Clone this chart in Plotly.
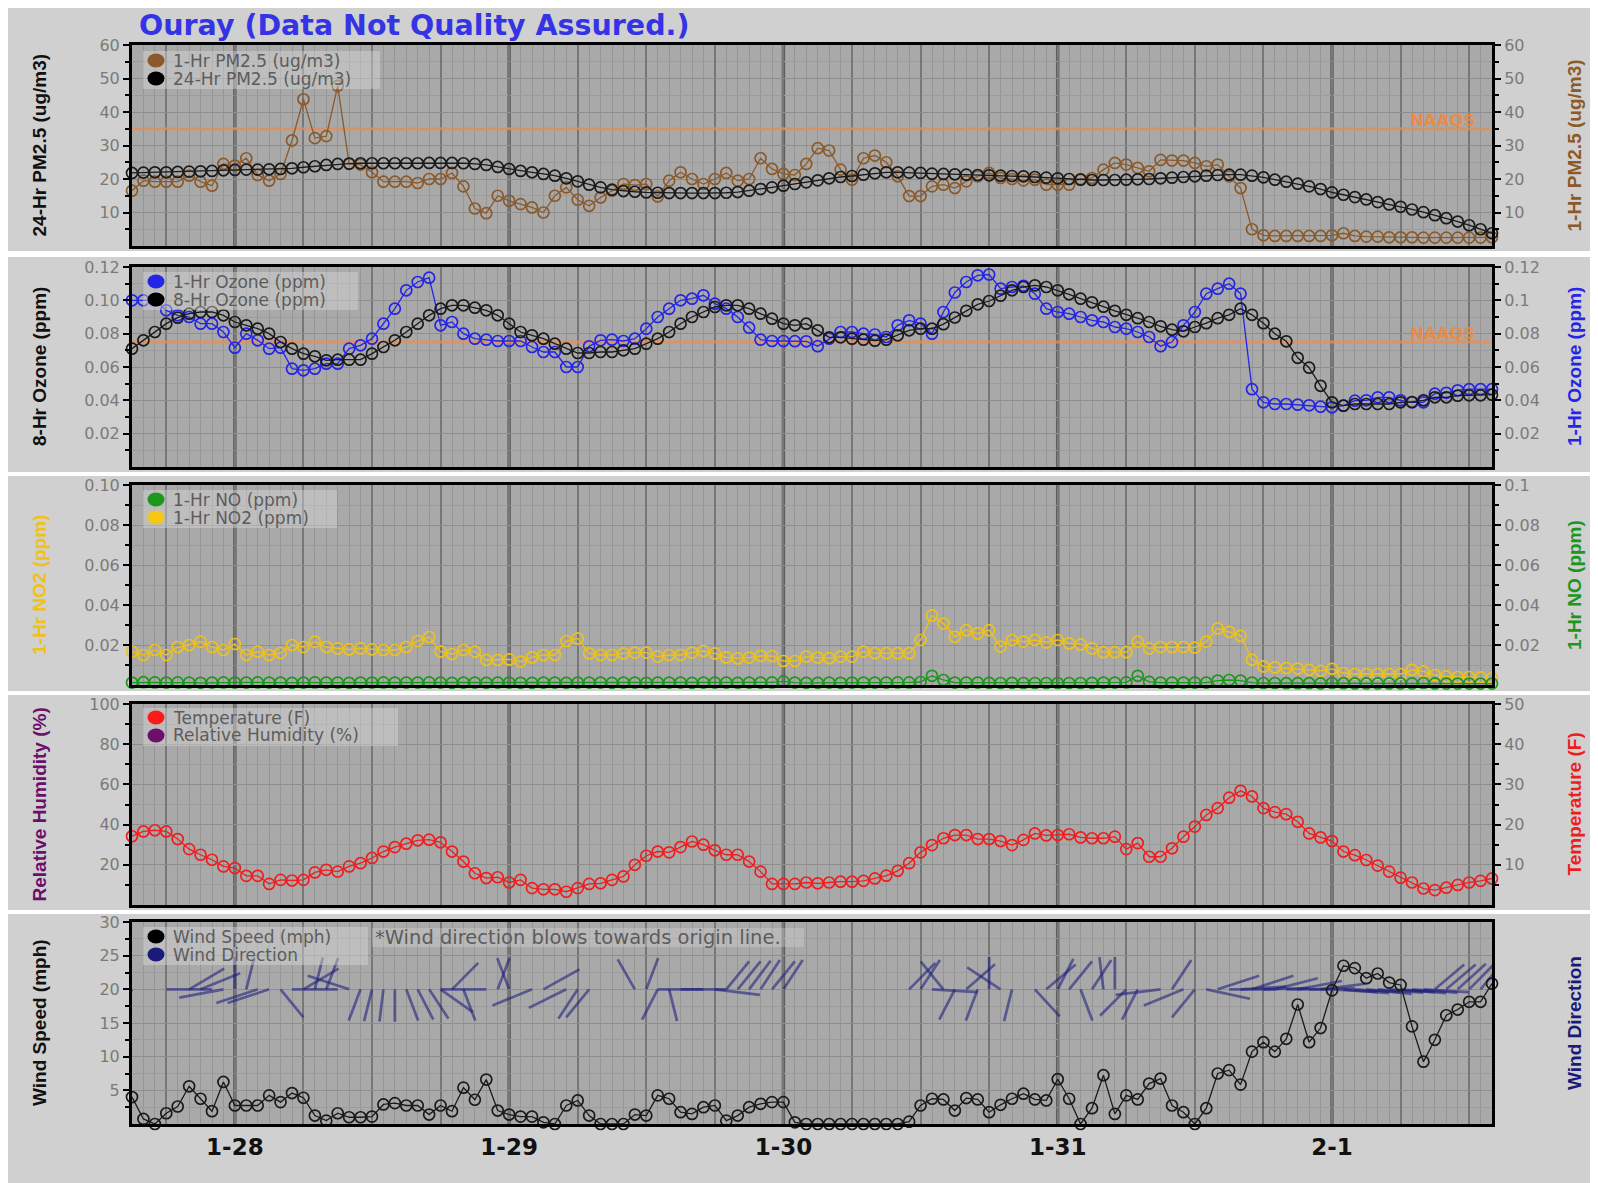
import math
import pandas as pd
import plotly.graph_objects as go

W, H = 1598, 1183          # browser window
PAGE_OFF = 8               # default body margin of the page
FW, FH = W - PAGE_OFF, H - PAGE_OFF   # figure size so that it ends at the window edge

# ---------------- data ----------------
times = pd.date_range("2013-01-27 15:00", periods=120, freq="h")
day_ticks = ["2013-01-28", "2013-01-29", "2013-01-30", "2013-01-31", "2013-02-01"]
day_labels = ["1-28", "1-29", "1-30", "1-31", "2-1"]

pm25_1hr = [16.5, 19.5, 19.2, 19.2, 19.2, 21.0, 19.2, 18.0, 24.5, 24.0,
            26.2, 21.2, 19.5, 21.5, 31.5, 43.8, 32.2, 32.8, 47.8, 24.5,
            24.3, 22.0, 19.2, 19.2, 19.2, 18.8, 20.0, 20.0, 21.8, 17.8,
            11.2, 9.8, 15.0, 13.5, 12.5, 11.5, 10.0, 15.0, 17.5, 13.8,
            12.0, 14.5, 16.5, 18.5, 18.2, 18.5, 14.8, 19.5, 22.0, 20.0,
            18.5, 20.0, 21.8, 19.5, 20.0, 26.2, 23.0, 21.5, 21.2,
            24.5, 29.2, 28.5, 22.8, 19.8, 26.2, 27.0, 25.0, 20.8, 14.9,
            14.9, 17.8, 18.3, 17.3, 19.3, 20.8, 21.8, 20.3, 20.0, 19.6,
            19.8, 18.3, 18.3, 18.3, 20.0, 20.3, 22.8, 24.8, 24.3, 23.3,
            22.3, 25.7, 25.5, 25.5, 24.8, 23.8, 24.3, 20.8, 17.3,
            5.0, 3.2, 3.0, 3.0, 3.0, 3.0, 3.0, 3.2, 3.8, 3.0, 2.8,
            2.8, 2.6, 2.6, 2.6, 2.5, 2.5, 2.5, 2.5, 2.5, 2.5, 2.6]

pm25_24hr = [21.8, 21.9, 22.0, 22.0, 22.1, 22.2, 22.3, 22.4, 22.6, 22.7,
             22.8, 22.8, 22.9, 23.0, 23.2, 23.5, 23.8, 24.2, 24.5, 24.6,
             24.7, 24.7, 24.7, 24.7, 24.7, 24.7, 24.8, 24.8, 24.8, 24.7,
             24.5, 24.2, 23.6, 23.0, 22.4, 22.0, 21.5, 21.0, 20.2, 19.3,
             18.3, 17.5, 16.8, 16.4, 16.2, 16.0, 15.9, 15.8, 15.8, 15.8,
             15.8, 15.8, 15.9, 16.1, 16.5, 17.0, 17.5, 18.0, 18.5, 19.0,
             19.6, 20.2, 20.6, 20.9, 21.3, 21.7, 22.0, 22.0, 21.9, 21.8,
             21.6, 21.5, 21.4, 21.3, 21.2, 21.1, 21.0, 20.9, 20.8, 20.6,
             20.4, 20.2, 20.0, 19.8, 19.7, 19.7, 19.7, 19.8, 19.9, 20.0,
             20.2, 20.4, 20.6, 20.8, 21.0, 21.2, 21.3, 21.3, 21.0, 20.5,
             19.8, 19.2, 18.6, 17.8, 17.0, 16.0, 15.3, 14.6, 13.9, 13.1,
             12.4, 11.7, 10.9, 10.1, 9.2, 8.3, 7.3, 6.2, 5.0, 3.8]

ozone_1hr = [0.100, 0.100, 0.100, 0.094, 0.091, 0.090, 0.086, 0.086, 0.081, 0.0716,
             0.080, 0.076, 0.071, 0.0716, 0.059, 0.058, 0.059, 0.062, 0.062, 0.071,
             0.073, 0.077, 0.086, 0.095, 0.106, 0.111, 0.1136, 0.085, 0.087, 0.080,
             0.077, 0.0764, 0.0756, 0.0756, 0.0756, 0.072, 0.069, 0.069, 0.060, 0.060,
             0.0724, 0.076, 0.0764, 0.0756, 0.077, 0.083, 0.090, 0.095, 0.100, 0.101,
             0.103, 0.098, 0.095, 0.090, 0.0836, 0.0764, 0.0756, 0.0756, 0.0755,
             0.0754, 0.0725, 0.077, 0.081, 0.081, 0.080, 0.0795, 0.078, 0.085, 0.088,
             0.086, 0.080, 0.093, 0.1047, 0.111, 0.115, 0.1155, 0.107, 0.108, 0.1087,
             0.104, 0.095, 0.093, 0.092, 0.090, 0.088, 0.087, 0.084, 0.083, 0.081,
             0.078, 0.0725, 0.075, 0.085, 0.093, 0.104, 0.107, 0.110, 0.104, 0.0467,
             0.0388, 0.0378, 0.0378, 0.0374, 0.037, 0.0362, 0.0358, 0.0368, 0.0398, 0.040,
             0.0418, 0.0418, 0.040, 0.0388, 0.0388, 0.044, 0.0445, 0.046, 0.0467, 0.0467,
             0.0467]

ozone_8hr = [0.071, 0.076, 0.081, 0.086, 0.0896, 0.092, 0.093, 0.093, 0.091, 0.087,
             0.085, 0.083, 0.080, 0.075, 0.071, 0.068, 0.0664, 0.064, 0.0644, 0.0644,
             0.0644, 0.068, 0.072, 0.076, 0.081, 0.086, 0.091, 0.095, 0.097, 0.097,
             0.0956, 0.094, 0.091, 0.086, 0.081, 0.079, 0.077, 0.074, 0.071, 0.0684,
             0.0684, 0.069, 0.069, 0.070, 0.071, 0.074, 0.077, 0.081, 0.086, 0.090,
             0.093, 0.096, 0.097, 0.097, 0.095, 0.092, 0.089, 0.086, 0.085,
             0.086, 0.082, 0.0778, 0.0778, 0.077, 0.0764, 0.0758, 0.0764, 0.079, 0.082,
             0.083, 0.083, 0.0857, 0.0897, 0.0937, 0.0976, 0.0996, 0.1028, 0.106, 0.108,
             0.109, 0.108, 0.106, 0.1036, 0.101, 0.0988, 0.0962, 0.0937, 0.0913, 0.0893,
             0.087, 0.0844, 0.0824, 0.0814, 0.084, 0.0863, 0.0893, 0.0913, 0.095, 0.0913,
             0.0863, 0.080, 0.0754, 0.0655, 0.0596, 0.0487, 0.0388, 0.0368, 0.0378, 0.0378,
             0.0378, 0.0378, 0.0388, 0.039, 0.040, 0.0418, 0.0418, 0.0428, 0.043, 0.043,
             0.0434]

no2_1hr = [0.0167, 0.015, 0.0175, 0.015, 0.019, 0.020, 0.0217, 0.019, 0.0175, 0.0205,
           0.015, 0.0167, 0.015, 0.016, 0.020, 0.019, 0.0217, 0.019, 0.0183, 0.0178,
           0.0183, 0.0178, 0.0175, 0.0175, 0.019, 0.022, 0.024, 0.0167, 0.0155, 0.0175,
           0.0167, 0.0125, 0.0125, 0.0128, 0.0117, 0.0138, 0.015, 0.015, 0.022, 0.0233,
           0.0158, 0.015, 0.015, 0.0158, 0.0162, 0.0162, 0.0142, 0.015, 0.015, 0.0162,
           0.017, 0.0158, 0.0138, 0.0133, 0.0137, 0.0145, 0.0145, 0.012, 0.012,
           0.0142, 0.0137, 0.0134, 0.0142, 0.0142, 0.0167, 0.0159, 0.0159, 0.0159, 0.0159,
           0.0225, 0.0348, 0.0307, 0.0241, 0.0274, 0.0258, 0.0274, 0.0192, 0.0225, 0.0217,
           0.0225, 0.0213, 0.0225, 0.0208, 0.0203, 0.0183, 0.0164, 0.0164, 0.0164, 0.0217,
           0.0183, 0.019, 0.019, 0.019, 0.0187, 0.0217, 0.0283, 0.0266, 0.0246, 0.0126,
           0.0093, 0.0088, 0.0085, 0.0082, 0.0076, 0.0071, 0.0081, 0.006, 0.0055, 0.0055,
           0.0055, 0.0055, 0.0055, 0.0076, 0.0068, 0.005, 0.0043, 0.004, 0.004, 0.0038,
           0.0035]

no_1hr = [0.0012, 0.0014, 0.0013, 0.0012, 0.0013, 0.0012, 0.0011, 0.0012, 0.0013, 0.0012,
          0.0012, 0.0013, 0.0012, 0.0012, 0.0011, 0.0012, 0.0013, 0.0012, 0.0012, 0.0011,
          0.0012, 0.0012, 0.0013, 0.0012, 0.0012, 0.0012, 0.0013, 0.0012, 0.0011, 0.0012,
          0.0012, 0.0011, 0.0012, 0.0012, 0.0011, 0.0011, 0.0012, 0.0012, 0.0011, 0.0012,
          0.0012, 0.0012, 0.0011, 0.0012, 0.0012, 0.0011, 0.0012, 0.0012, 0.0012, 0.0011,
          0.0012, 0.0012, 0.0012, 0.0011, 0.0012, 0.0012, 0.0013, 0.0018, 0.0012, 0.0011,
          0.0011, 0.0012, 0.0011, 0.0012, 0.0012, 0.0012, 0.0012, 0.0013, 0.0013, 0.0015,
          0.0046, 0.0025, 0.0012, 0.0012, 0.0012, 0.0011, 0.0010, 0.0011, 0.0010, 0.0010,
          0.0010, 0.0010, 0.0010, 0.0010, 0.0011, 0.0012, 0.0012, 0.0013, 0.0046, 0.0016,
          0.0012, 0.0012, 0.0012, 0.0012, 0.0012, 0.0022, 0.0025, 0.0022, 0.0012, 0.0010,
          0.0010, 0.0009, 0.0009, 0.0009, 0.0008, 0.0010, 0.0009, 0.0008, 0.0008, 0.0008,
          0.0008, 0.0008, 0.0008, 0.0010, 0.0008, 0.0007, 0.0007, 0.0007, 0.0007, 0.0007]

temperature_f = [17.1, 18.3, 18.6, 18.3, 16.4, 13.9, 12.5, 11.25, 9.6, 9.2,
                 7.25, 7.25, 5.25, 6.25, 6.1, 6.25, 8.1, 8.75, 8.3, 9.6,
                 10.4, 11.7, 13.3, 14.4, 15.25, 16.1, 16.25, 15.6, 13.3, 10.8,
                 7.9, 6.7, 6.9, 5.6, 6.25, 4.2, 3.9, 3.9, 3.3, 4.2,
                 5.25, 5.4, 6.25, 7.1, 10.0, 12.25, 13.3, 13.1, 14.4, 15.8,
                 15.0, 13.6, 12.5, 12.5, 10.8, 8.3, 5.25, 5.25, 5.25,
                 5.6, 5.4, 5.6, 5.8, 5.8, 6.0, 6.6, 7.3, 8.5, 10.4,
                 13.1, 14.9, 16.6, 17.4, 17.4, 16.4, 16.4, 15.9, 14.9, 16.2,
                 17.8, 17.3, 17.4, 17.6, 16.8, 16.6, 16.6, 17.0, 13.9, 15.4,
                 12.0, 12.0, 14.1, 17.0, 19.5, 22.4, 24.1, 26.7, 28.4, 27.0,
                 24.1, 23.1, 22.6, 20.7, 17.8, 16.8, 15.9, 13.3, 12.4, 11.2,
                 9.8, 8.3, 6.8, 5.6, 4.1, 3.7, 4.3, 5.0, 5.6, 6.0,
                 6.6]

relative_humidity = []   # listed in the legend but no values plotted

wind_speed = [4.0, 0.75, 0.0, 1.6, 2.6, 5.6, 3.75, 1.9, 6.25, 2.75,
              2.75, 2.75, 4.25, 3.25, 4.6, 3.9, 1.25, 0.5, 1.6, 1.0,
              1.0, 1.1, 2.9, 3.1, 2.75, 2.75, 1.4, 2.75, 1.9, 5.4,
              3.6, 6.6, 2.0, 1.4, 1.1, 1.1, 0.25, 0.0, 2.75, 3.5,
              1.25, 0.0, 0.0, 0.0, 1.4, 1.25, 4.25, 3.75, 1.75, 1.5,
              2.5, 2.75, 0.5, 1.25, 2.5, 3.0, 3.25, 3.25, 0.25,
              0.0, 0.0, 0.0, 0.0, 0.0, 0.0, 0.0, 0.0, 0.0, 0.35,
              2.75, 3.75, 3.65, 2.0, 3.85, 3.65, 1.75, 2.85, 3.75, 4.5,
              3.65, 3.5, 6.65, 3.75, 0.0, 2.35, 7.25, 1.5, 4.25, 3.65,
              6.0, 6.75, 2.75, 1.75, 0.0, 2.35, 7.5, 8.0, 5.85, 10.75,
              12.15, 10.75, 12.65, 17.75, 12.15, 14.25, 19.85, 23.5, 23.15, 21.65,
              22.35, 21.0, 20.65, 14.5, 9.25, 12.5, 16.15, 17.0, 18.15, 18.15,
              20.85]

# wind direction (degrees the wind comes from); None = calm / missing
wind_dir = [200, None, None, None, None, 50, 60, 270, 255, 0,
            10, 245, 245, 150, None, 50, 10, 15, 270, 295,
            195, 190, 185, 180, 165, 160, 155, 135, 35, 165,
            None, 270, 15, 345, None, 240, 52, None, 235, 205,
            210, None, None, None, 338, 15, 200, 170, 90, None,
            270, 100, 30, 30, 28, 25, 30, 25, None, None,
            None, None, None, None, None, None, None, None, 35, 25,
            95, 330, 200, 39, 195, 0, 313, 190, None, 147,
            40, 20, 30, 165, 25, 355, 0, 215, 200, None,
            260, 25, 240, 210, 107, 65, 90, 85, 65, 88,
            70, 90, 75, 88, 80, 95, 97, 95, 98, 96,
            95, 97, 96, 95, 40, 40, 38, 35, 30, 31]

naaqs_pm25 = 35
naaqs_ozone = 0.075
WIND_ORIGIN = 20          # mph level on which wind direction lines start
WD_LEN_H = 4.0            # horizontal extent of a direction line (hours)
WD_LEN_V = 4.8            # vertical extent of a direction line (mph)

series = dict(pm25_1hr=pm25_1hr, pm25_24hr=pm25_24hr, ozone_1hr=ozone_1hr,
              ozone_8hr=ozone_8hr, no2_1hr=no2_1hr, no_1hr=no_1hr,
              temperature_f=temperature_f, wind_speed=wind_speed, wind_dir=wind_dir)
for k, v in series.items():
    if len(v) != len(times):
        raise ValueError(f"{k} has {len(v)} values")

# ---------------- style ----------------
PM1_C = "#8B5A2B"
BLK = "#1a1a1a"
O3_C = "#2525e6"
NO2_C = "#efc21a"
NO_C = "#1c961c"
T_C = "#ee1e1e"
RH_C = "#6b0f6b"
WD_C = "#1a1a78"
TICK_C = "#7a7a7a"
FONT = "DejaVu Sans"
TFONT = "Liberation Sans, Arial"

L_PX, R_PX = 132, 1492
PANELS = [(45, 246), (267, 467), (485, 685), (704, 905), (922, 1124)]
BOXES = [(5, 251), (257, 472), (476, 691), (695, 910), (914, 1183)]


def px(x):   # window pixel -> paper fraction
    return (x - PAGE_OFF) / FW


def py(y):
    return 1 - (y - PAGE_OFF) / FH


fig = go.Figure()

six_hour = pd.date_range("2013-01-27 18:00", "2013-02-01 12:00", freq="6h")
six_text = [f"{t.month}-{t.day}" if t.hour == 0 else "" for t in six_hour]

layout = dict(width=FW, height=FH, autosize=False,
              margin=dict(l=0, r=0, t=0, b=0, pad=0, autoexpand=False),
              paper_bgcolor="white", plot_bgcolor="rgba(0,0,0,0)",
              showlegend=False, shapes=[], annotations=[],
              font=dict(family=FONT, color=TICK_C, size=16))

axis_cfg = [
    dict(lr=[0, 60], lv=[10, 20, 30, 40, 50, 60], lt=["10", "20", "30", "40", "50", "60"],
         lm=[5, 15, 25, 35, 45, 55],
         rr=[0, 60], rv=[10, 20, 30, 40, 50, 60], rt=["10", "20", "30", "40", "50", "60"],
         rm=[5, 15, 25, 35, 45, 55],
         ltitle=("24-Hr PM2.5 (ug/m3)", "#111111"), rtitle=("1-Hr PM2.5 (ug/m3)", PM1_C)),
    dict(lr=[0, 0.12], lv=[0.02, 0.04, 0.06, 0.08, 0.10, 0.12],
         lt=["0.02", "0.04", "0.06", "0.08", "0.10", "0.12"],
         lm=[0.01, 0.03, 0.05, 0.07, 0.09, 0.11],
         rr=[0, 0.12], rv=[0.02, 0.04, 0.06, 0.08, 0.10, 0.12],
         rt=["0.02", "0.04", "0.06", "0.08", "0.1", "0.12"],
         rm=[0.01, 0.03, 0.05, 0.07, 0.09, 0.11],
         ltitle=("8-Hr Ozone (ppm)", "#111111"), rtitle=("1-Hr Ozone (ppm)", O3_C)),
    dict(lr=[0, 0.10], lv=[0.02, 0.04, 0.06, 0.08, 0.10],
         lt=["0.02", "0.04", "0.06", "0.08", "0.10"],
         lm=[0.01, 0.03, 0.05, 0.07, 0.09],
         rr=[0, 0.10], rv=[0.02, 0.04, 0.06, 0.08, 0.10],
         rt=["0.02", "0.04", "0.06", "0.08", "0.1"],
         rm=[0.01, 0.03, 0.05, 0.07, 0.09],
         ltitle=("1-Hr NO2 (ppm)", NO2_C), rtitle=("1-Hr NO (ppm)", NO_C)),
    dict(lr=[0, 100], lv=[20, 40, 60, 80, 100], lt=["20", "40", "60", "80", "100"],
         lm=[10, 30, 50, 70, 90],
         rr=[0, 50], rv=[10, 20, 30, 40, 50], rt=["10", "20", "30", "40", "50"],
         rm=[5, 15, 25, 35, 45],
         ltitle=("Relative Humidity (%)", RH_C), rtitle=("Temperature (F)", T_C)),
    dict(lr=[0, 30], lv=[5, 10, 15, 20, 25, 30], lt=["5", "10", "15", "20", "25", "30"],
         lm=[2.5, 7.5, 12.5, 17.5, 22.5, 27.5],
         rr=[0, 1], rv=None, rt=None, rm=None,
         ltitle=("Wind Speed (mph)", "#111111"), rtitle=("Wind Direction", WD_C)),
]

for k, (top, bot) in enumerate(PANELS):
    box_top, box_bot = BOXES[k]
    layout["shapes"].append(dict(type="rect", xref="paper", yref="paper", layer="below",
                                 x0=px(8), x1=1, y0=py(box_bot), y1=py(box_top),
                                 fillcolor="#d0d0d0", line=dict(width=0)))
for k, (top, bot) in enumerate(PANELS):
    layout["shapes"].append(dict(type="rect", xref="paper", yref="paper", layer="below",
                                 x0=px(L_PX), x1=px(R_PX), y0=py(bot), y1=py(top),
                                 fillcolor="#a9a9a9", line=dict(width=0)))

for k, (top, bot) in enumerate(PANELS):
    c = axis_cfg[k]
    xn = "xaxis" if k == 0 else f"xaxis{k + 1}"
    xr = "x" if k == 0 else f"x{k + 1}"
    ylid, yrid = 2 * k + 1, 2 * k + 2
    yln = "yaxis" if ylid == 1 else f"yaxis{ylid}"
    ylr = "y" if ylid == 1 else f"y{ylid}"
    yrn = f"yaxis{yrid}"
    dom = [py(bot), py(top)]
    layout[xn] = dict(domain=[px(L_PX), px(R_PX)], anchor=ylr, type="date", automargin=False,
                      range=[times[0], times[-1]],
                      tickmode="array", tickvals=list(six_hour), ticktext=six_text,
                      showgrid=True, gridcolor="#777777", gridwidth=1.5,
                      showline=True, mirror=True, linecolor="black", linewidth=3,
                      ticks="", showticklabels=(k == 4), zeroline=False,
                      tickfont=dict(family=FONT, size=23, color="#111111", weight="bold"),
                      minor=dict(tickmode="linear", tick0="2013-01-27 00:00", dtick=3600000,
                                 showgrid=True, gridcolor="#959595", gridwidth=1, ticks=""))
    layout[yln] = dict(domain=dom, anchor=xr, range=c["lr"], tickmode="array", automargin=False,
                       tickvals=c["lv"], ticktext=c["lt"], showgrid=True,
                       gridcolor="#8e8e8e", gridwidth=1, zeroline=False,
                       showline=True, linecolor="black", linewidth=3,
                       ticks="outside", ticklen=6, tickwidth=2, tickcolor="black",
                       tickfont=dict(family=FONT, size=16, color=TICK_C),
                       minor=dict(tickmode="array", tickvals=c["lm"], ticks="outside",
                                  ticklen=4, tickwidth=1.5, tickcolor="black",
                                  showgrid=True, gridcolor="#9c9c9c", gridwidth=1))
    if c["rv"] is not None:
        layout[yrn] = dict(domain=dom, anchor=xr, overlaying=ylr, side="right", automargin=False,
                           range=c["rr"], tickmode="array", tickvals=c["rv"], ticktext=c["rt"],
                           showgrid=False, zeroline=False, showline=True, linecolor="black",
                           linewidth=3, ticks="outside", ticklen=6, tickwidth=2,
                           tickcolor="black",
                           tickfont=dict(family=FONT, size=16, color=TICK_C),
                           minor=dict(tickmode="array", tickvals=c["rm"], ticks="outside",
                                      ticklen=4, tickwidth=1.5, tickcolor="black"))
    else:
        layout[yln]["mirror"] = True   # right frame line, no ticks
    for d in day_ticks:
        layout["shapes"].append(dict(type="line", xref=xr, yref="paper", layer="below",
                                     x0=d, x1=d, y0=dom[0], y1=dom[1],
                                     line=dict(color="#5f5f5f", width=3.5)))
    mid = (top + bot) / 2
    lt, lc = c["ltitle"]
    rt, rc = c["rtitle"]
    layout["annotations"].append(dict(text=f"<b>{lt}</b>", xref="paper", yref="paper",
                                      x=px(39), y=py(mid), xanchor="center", yanchor="middle",
                                      textangle=-90, showarrow=False,
                                      font=dict(family=TFONT, size=19, color=lc)))
    layout["annotations"].append(dict(text=f"<b>{rt}</b>", xref="paper", yref="paper",
                                      x=px(1574), y=py(mid), xanchor="center", yanchor="middle",
                                      textangle=-90, showarrow=False,
                                      font=dict(family=TFONT, size=19, color=rc)))


def mk(color):
    return dict(symbol="circle-open", size=11, color=color, line=dict(width=1.7, color=color))


def sc(y, color, xa, ya, lw=1.3):
    return go.Scatter(x=times, y=y, mode="lines+markers", xaxis=xa, yaxis=ya,
                      line=dict(color=color, width=lw), marker=mk(color),
                      cliponaxis=False, hoverinfo="skip")


# NAAQS reference lines across the whole period
fig.add_trace(go.Scatter(x=[times[0], times[-1]], y=[naaqs_pm25, naaqs_pm25], mode="lines",
                         xaxis="x", yaxis="y", hoverinfo="skip",
                         line=dict(color="rgba(238,140,80,0.75)", width=3)))
fig.add_trace(go.Scatter(x=[times[0], times[-1]], y=[naaqs_ozone, naaqs_ozone], mode="lines",
                         xaxis="x2", yaxis="y3", hoverinfo="skip",
                         line=dict(color="rgba(238,140,80,0.75)", width=3)))

fig.add_trace(sc(pm25_1hr, PM1_C, "x", "y"))
fig.add_trace(sc(pm25_24hr, BLK, "x", "y2"))
fig.add_trace(sc(ozone_1hr, O3_C, "x2", "y3"))
fig.add_trace(sc(ozone_8hr, BLK, "x2", "y4"))
fig.add_trace(sc(no2_1hr, NO2_C, "x3", "y5"))
fig.add_trace(sc(no_1hr, NO_C, "x3", "y6"))
fig.add_trace(go.Scatter(x=list(times[:len(relative_humidity)]), y=relative_humidity,
                         mode="lines+markers", xaxis="x4", yaxis="y7",
                         marker=mk(RH_C), line=dict(color=RH_C)))
fig.add_trace(sc(temperature_f, T_C, "x4", "y8"))

wd_x, wd_y = [], []
for t, d in zip(times, wind_dir):
    if d is None:
        continue
    r = math.radians(d)
    dt = pd.to_timedelta(round(WD_LEN_H * math.sin(r) * 3600), unit="s")
    wd_x += [t, t + dt, None]
    wd_y += [WIND_ORIGIN, WIND_ORIGIN + WD_LEN_V * math.cos(r), None]
fig.add_trace(go.Scatter(x=wd_x, y=wd_y, mode="lines", xaxis="x5", yaxis="y9",
                         line=dict(color="rgba(30,30,125,0.58)", width=2.7),
                         hoverinfo="skip"))
fig.add_trace(sc(wind_speed, BLK, "x5", "y9"))

for yy in (120, 333):
    layout["annotations"].append(dict(text="<b>NAAQS</b>", xref="paper", yref="paper",
                                      x=px(1477), y=py(yy), xanchor="right", yanchor="middle",
                                      showarrow=False,
                                      font=dict(family=FONT, size=16.5,
                                                color="rgba(245,135,55,0.85)")))

# legends (drawn manually)
legends = [
    (51, 380, [("1-Hr PM2.5 (ug/m3)", PM1_C), ("24-Hr PM2.5 (ug/m3)", "#000000")]),
    (272, 358, [("1-Hr Ozone (ppm)", O3_C), ("8-Hr Ozone (ppm)", "#000000")]),
    (490, 337, [("1-Hr NO (ppm)", NO_C), ("1-Hr NO2 (ppm)", "#f5c816")]),
    (708, 398, [("Temperature (F)", "#ff1a1a"), ("Relative Humidity (%)", RH_C)]),
    (927, 368, [("Wind Speed (mph)", "#000000"), ("Wind Direction", WD_C)]),
]
for top, right, items in legends:
    layout["shapes"].append(dict(type="rect", xref="paper", yref="paper", layer="above",
                                 x0=px(143), x1=px(right), y0=py(top + 38), y1=py(top),
                                 fillcolor="rgba(214,214,214,0.45)", line=dict(width=0)))
    for j, (label, col) in enumerate(items):
        cy = top + 9.5 + 18 * j
        layout["shapes"].append(dict(type="circle", xref="paper", yref="paper", layer="above",
                                     x0=px(147.5), x1=px(164.5), y0=py(cy + 7), y1=py(cy - 7),
                                     fillcolor=col, line=dict(width=0)))
        layout["annotations"].append(dict(text=label, xref="paper", yref="paper",
                                          x=px(172), y=py(cy), xanchor="left", yanchor="middle",
                                          showarrow=False, borderpad=0,
                                          font=dict(family=FONT, size=17, color="#5c5c5c")))
layout["shapes"].append(dict(type="rect", xref="paper", yref="paper", layer="above",
                             x0=px(372), x1=px(804), y0=py(947), y1=py(928),
                             fillcolor="rgba(214,214,214,0.35)", line=dict(width=0)))
layout["annotations"].append(dict(text="*Wind direction blows towards origin line.",
                                  xref="paper", yref="paper", x=px(373), y=py(937.5),
                                  xanchor="left", yanchor="middle", showarrow=False,
                                  font=dict(family=FONT, size=19.5, color="#5c5c5c")))

layout["annotations"].append(dict(text="<b>Ouray (Data Not Quality Assured.)</b>",
                                  xref="paper", yref="paper", x=px(137), y=py(25.5),
                                  xanchor="left", yanchor="middle", showarrow=False,
                                  font=dict(family=FONT, size=28.5, color="#3434e4")))

fig.update_layout(**layout)
fig.write_html("out.html", config={"displayModeBar": False})
